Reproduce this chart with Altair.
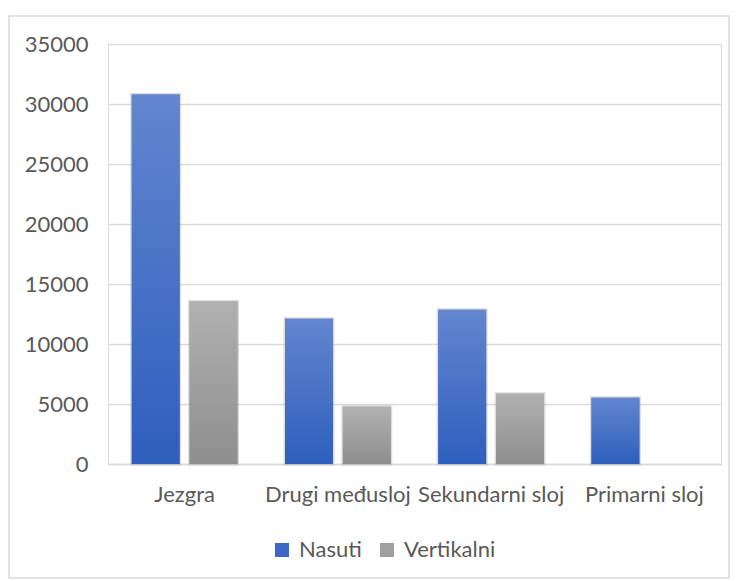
import altair as alt
import pandas as pd

categories = ["Jezgra", "Drugi međusloj", "Sekundarni sloj", "Primarni sloj"]
series = ["Nasuti", "Vertikalni"]
nasuti = [30800, 12100, 12850, 5520]
vertikalni = [13550, 4780, 5850, None]
y_ticks = [0, 5000, 10000, 15000, 20000, 25000, 30000, 35000]

rows = []
for c, n, v in zip(categories, nasuti, vertikalni):
    rows.append({"cat": c, "series": "Nasuti", "value": n})
    if v is not None:
        rows.append({"cat": c, "series": "Vertikalni", "value": v})
df = pd.DataFrame(rows)

W, H = 613, 420
FONT = "Lato"
TXT = "#595959"
GRID = "#d9d9d9"
FS = 22

x = alt.X(
    "cat:N", sort=categories, title=None,
    scale=alt.Scale(paddingInner=0.31, paddingOuter=0.155),
    axis=alt.Axis(labelFont=FONT, labelFontSize=FS, labelColor=TXT, labelPadding=20,
                  ticks=False, domainColor=GRID, domainWidth=1.3, labelAngle=0,
                  labelOverlap=False, labelLimit=0, grid=False),
)
xo = alt.XOffset("series:N", sort=series,
                 scale=alt.Scale(paddingInner=0.172, paddingOuter=0))
y = alt.Y(
    "value:Q", title=None,
    scale=alt.Scale(domain=[0, 35000], nice=False),
    axis=alt.Axis(values=y_ticks, ticks=False, domain=False, gridColor=GRID, gridWidth=1.3,
                  labelPadding=20, labelFont=FONT, labelFontSize=FS, labelColor=TXT,
                  format="d"),
)

base = alt.Chart(df).mark_bar(stroke="#9a9a9a", strokeOpacity=0.35, strokeWidth=3).encode(
    x=x, xOffset=xo, y=y,
    color=alt.Color(
        "series:N", sort=series,
        scale=alt.Scale(domain=series, range=["#3E68C6", "#A0A0A0"]),
        legend=alt.Legend(
            title=None, orient="none", direction="horizontal", legendX=163, legendY=495,
            symbolType="square", symbolSize=196, symbolStrokeWidth=0, symbolOpacity=1,
            labelFont=FONT, labelFontSize=FS, labelColor=TXT, labelOffset=6,
            columnPadding=14,
        ),
    ),
)

blue_grad = {
    "gradient": "linear", "x1": 0, "x2": 0, "y1": 0, "y2": 1,
    "stops": [{"offset": 0, "color": "#6286CF"}, {"offset": 1, "color": "#2F5EBE"}],
}
gray_grad = {
    "gradient": "linear", "x1": 0, "x2": 0, "y1": 0, "y2": 1,
    "stops": [{"offset": 0, "color": "#B1B1B1"}, {"offset": 1, "color": "#8E8E8E"}],
}

over_blue = alt.Chart(df).transform_filter(alt.datum.series == "Nasuti").mark_bar(
    fill=blue_grad).encode(x=x, xOffset=xo, y=y)
over_gray = alt.Chart(df).transform_filter(alt.datum.series == "Vertikalni").mark_bar(
    fill=gray_grad).encode(x=x, xOffset=xo, y=y)

border = alt.Chart(pd.DataFrame({"a": [0]})).mark_rect(
    fill="transparent", stroke=GRID, strokeWidth=1.5
).encode(x=alt.value(-99), x2=alt.value(621), y=alt.value(-28), y2=alt.value(534))

chart = alt.layer(border, base, over_blue, over_gray).properties(
    width=W, height=H, padding={"left": 0, "top": 7, "right": 0, "bottom": 0}
).configure_view(strokeWidth=0).configure(background="white")

chart.save("out.html", embed_options={"renderer": "svg", "actions": False})
